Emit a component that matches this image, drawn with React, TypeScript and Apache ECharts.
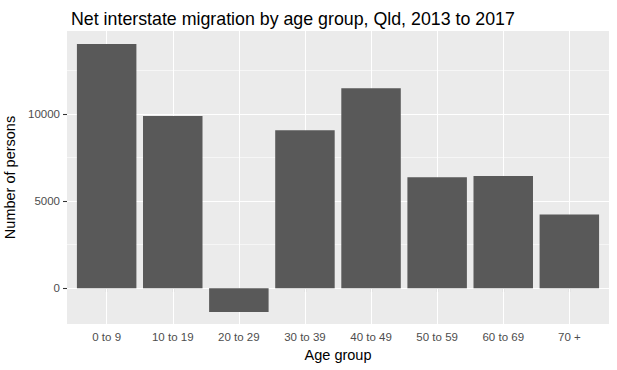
import React, { useEffect, useRef } from "react";
import * as echarts from "echarts";

const categories = ["0 to 9", "10 to 19", "20 to 29", "30 to 39", "40 to 49", "50 to 59", "60 to 69", "70 +"];
const persons = [14030, 9890, -1370, 9070, 11490, 6380, 6440, 4230];
const yTicks = [0, 5000, 10000];
const yMinorLines = [-2500, 2500, 7500, 12500];
const positions = [1, 2, 3, 4, 5, 6, 7, 8];

const FONT = "'Liberation Sans', Arial, sans-serif";

export default function App() {
  const ref = useRef<HTMLDivElement>(null);
  useEffect(() => {
    if (!ref.current) return;
    const chart = echarts.init(ref.current, null, { renderer: "svg" });
    const white = "#FFFFFF";
    chart.setOption({
      animation: false,
      backgroundColor: "#FFFFFF",
      textStyle: { fontFamily: FONT },
      title: {
        text: "Net interstate migration by age group, Qld, 2013 to 2017",
        left: 66,
        top: 5,
        textStyle: { fontFamily: FONT, fontSize: 17.8, fontWeight: "normal", color: "#000000" },
      },
      grid: {
        left: 67,
        top: 31,
        right: 8,
        bottom: 46,
        containLabel: false,
        outerBoundsMode: "none",
        show: true,
        backgroundColor: "#EBEBEB",
        borderWidth: 0,
      },
      xAxis: {
        type: "value",
        min: 0.4,
        max: 8.6,
        name: "Age group",
        nameLocation: "middle",
        nameGap: 23,
        nameTextStyle: { fontFamily: FONT, fontSize: 14.5, color: "#000000" },
        axisLine: { show: false },
        axisTick: { show: true, length: 4, customValues: positions, lineStyle: { color: "#333333", width: 1.07 } },
        axisLabel: {
          customValues: positions,
          margin: 7,
          fontFamily: FONT,
          fontSize: 11.5,
          color: "#4D4D4D",
          formatter: (v: number) => categories[Math.round(v) - 1] ?? "",
        },
        splitLine: { show: false },
      },
      yAxis: {
        type: "value",
        min: -2060,
        max: 14780,
        name: "Number of persons",
        nameLocation: "middle",
        nameGap: 42,
        nameTextStyle: { fontFamily: FONT, fontSize: 14.5, color: "#000000" },
        axisLine: { show: false },
        axisTick: { show: true, length: 4, customValues: yTicks, lineStyle: { color: "#333333", width: 1.07 } },
        axisLabel: {
          customValues: yTicks,
          margin: 7,
          fontFamily: FONT,
          fontSize: 11.5,
          color: "#4D4D4D",
          formatter: (v: number) => String(v),
        },
        splitLine: { show: false },
        minorSplitLine: { show: false },
      },
      series: [
        {
          type: "bar",
          z: 2,
          barWidth: "90%",
          itemStyle: { color: "#595959" },
          data: persons.map((v, i) => [positions[i], v]),
          markLine: {
            z: 1,
            silent: true,
            symbol: "none",
            label: { show: false },
            data: [
              ...yMinorLines.map((y) => ({ yAxis: y, lineStyle: { color: white, width: 0.55, type: "solid" } })),
              ...yTicks.map((y) => ({ yAxis: y, lineStyle: { color: white, width: 1.07, type: "solid" } })),
              ...positions.map((x) => ({ xAxis: x, lineStyle: { color: white, width: 1.07, type: "solid" } })),
            ],
          },
        },
      ],
    });
    return () => chart.dispose();
  }, []);
  return <div ref={ref} style={{ position: "fixed", left: 0, top: 0, width: 617, height: 370 }} />;
}
